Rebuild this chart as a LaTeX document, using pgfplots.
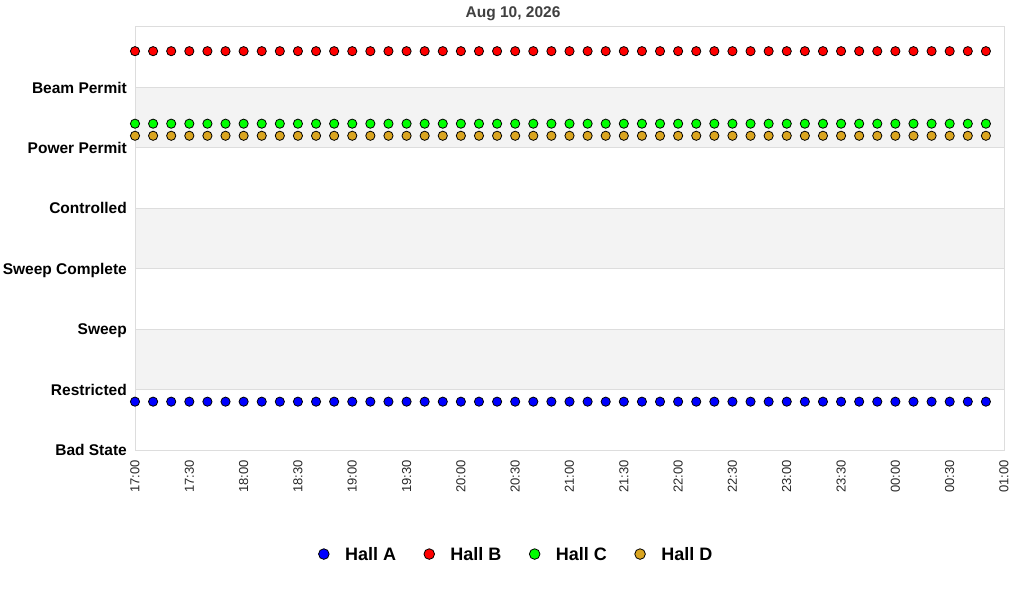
\documentclass[border=0pt]{standalone}
\usepackage{pgfplots}
\pgfplotsset{compat=1.18}
\usepackage{pgfplotstable}
\usepackage{fontspec}
\setmainfont{Liberation Sans}
\definecolor{hallA}{RGB}{0,0,255}
\definecolor{hallB}{RGB}{255,0,0}
\definecolor{hallC}{RGB}{0,255,0}
\definecolor{hallD}{RGB}{218,165,32}
\definecolor{gridgray}{RGB}{221,221,221}
\definecolor{bandgray}{RGB}{243,243,243}
\definecolor{titlegray}{RGB}{64,64,64}
\definecolor{ticktext}{RGB}{40,40,40}
\pgfplotstableread{
x A B C D
0 0.8 6.6 5.4 5.2
10 0.8 6.6 5.4 5.2
20 0.8 6.6 5.4 5.2
30 0.8 6.6 5.4 5.2
40 0.8 6.6 5.4 5.2
50 0.8 6.6 5.4 5.2
60 0.8 6.6 5.4 5.2
70 0.8 6.6 5.4 5.2
80 0.8 6.6 5.4 5.2
90 0.8 6.6 5.4 5.2
100 0.8 6.6 5.4 5.2
110 0.8 6.6 5.4 5.2
120 0.8 6.6 5.4 5.2
130 0.8 6.6 5.4 5.2
140 0.8 6.6 5.4 5.2
150 0.8 6.6 5.4 5.2
160 0.8 6.6 5.4 5.2
170 0.8 6.6 5.4 5.2
180 0.8 6.6 5.4 5.2
190 0.8 6.6 5.4 5.2
200 0.8 6.6 5.4 5.2
210 0.8 6.6 5.4 5.2
220 0.8 6.6 5.4 5.2
230 0.8 6.6 5.4 5.2
240 0.8 6.6 5.4 5.2
250 0.8 6.6 5.4 5.2
260 0.8 6.6 5.4 5.2
270 0.8 6.6 5.4 5.2
280 0.8 6.6 5.4 5.2
290 0.8 6.6 5.4 5.2
300 0.8 6.6 5.4 5.2
310 0.8 6.6 5.4 5.2
320 0.8 6.6 5.4 5.2
330 0.8 6.6 5.4 5.2
340 0.8 6.6 5.4 5.2
350 0.8 6.6 5.4 5.2
360 0.8 6.6 5.4 5.2
370 0.8 6.6 5.4 5.2
380 0.8 6.6 5.4 5.2
390 0.8 6.6 5.4 5.2
400 0.8 6.6 5.4 5.2
410 0.8 6.6 5.4 5.2
420 0.8 6.6 5.4 5.2
430 0.8 6.6 5.4 5.2
440 0.8 6.6 5.4 5.2
450 0.8 6.6 5.4 5.2
460 0.8 6.6 5.4 5.2
470 0.8 6.6 5.4 5.2
}\datatable
\begin{document}
\begin{tikzpicture}
\node[anchor=base, font=\fontsize{15.5}{16}\selectfont\bfseries, text=titlegray] at (513pt,582pt) {Aug 10, 2026};
\begin{axis}[
  set layers,
  at={(135pt,150pt)}, anchor=south west,
  scale only axis, width=869pt, height=423pt,
  xmin=0, xmax=480, ymin=0, ymax=7,
  axis line style={draw=gridgray, line width=1pt},
  major tick length=0pt,
  ymajorgrids, grid style={draw=gridgray, line width=1pt},
  ytick={0,1,2,3,4,5,6},
  yticklabels={Bad State,Restricted,Sweep,Sweep Complete,Controlled,Power Permit,Beam Permit},
  yticklabel style={font=\fontsize{15.5}{16}\selectfont\bfseries, inner sep=0pt, text depth=0pt, text=black},
  yticklabel shift=8pt,
  xtick={0,30,...,480},
  xticklabels={17:00,17:30,18:00,18:30,19:00,19:30,20:00,20:30,21:00,21:30,22:00,22:30,23:00,23:30,00:00,00:30,01:00},
  xticklabel style={font=\fontsize{13}{13}\selectfont, rotate=90, anchor=east, inner sep=0pt, text=ticktext},
  xticklabel shift=10pt,
  legend columns=4,
  legend image code/.code={\path (-33pt,0pt) (21pt,0pt); \draw[#1, mark size=5.3pt] plot coordinates {(0pt,0pt)};},
  legend style={draw=none, fill=none, at={(0.4217,-0.246)}, anchor=center, column sep=0pt,
    nodes={inner sep=0pt, text depth=0pt}, font=\fontsize{18}{18}\selectfont\bfseries},
  every axis plot/.append style={only marks, mark=*, mark size=4.6pt},
]
\begin{pgfonlayer}{axis background}
\fill[bandgray] (axis cs:0,1) rectangle (axis cs:480,2);
\fill[bandgray] (axis cs:0,3) rectangle (axis cs:480,4);
\fill[bandgray] (axis cs:0,5) rectangle (axis cs:480,6);
\end{pgfonlayer}
\addplot[mark options={fill=hallA, draw=black, line width=0.8pt}] table[x=x, y=A] {\datatable};
\addlegendentry{Hall A}
\addplot[mark options={fill=hallB, draw=black, line width=0.8pt}] table[x=x, y=B] {\datatable};
\addlegendentry{Hall B}
\addplot[mark options={fill=hallC, draw=black, line width=0.8pt}] table[x=x, y=C] {\datatable};
\addlegendentry{Hall C}
\addplot[mark options={fill=hallD, draw=black, line width=0.8pt}] table[x=x, y=D] {\datatable};
\addlegendentry{Hall D}
\end{axis}
\pgfresetboundingbox
\path[use as bounding box] (0pt,0pt) rectangle (1024pt,600pt);
\end{tikzpicture}
\end{document}
